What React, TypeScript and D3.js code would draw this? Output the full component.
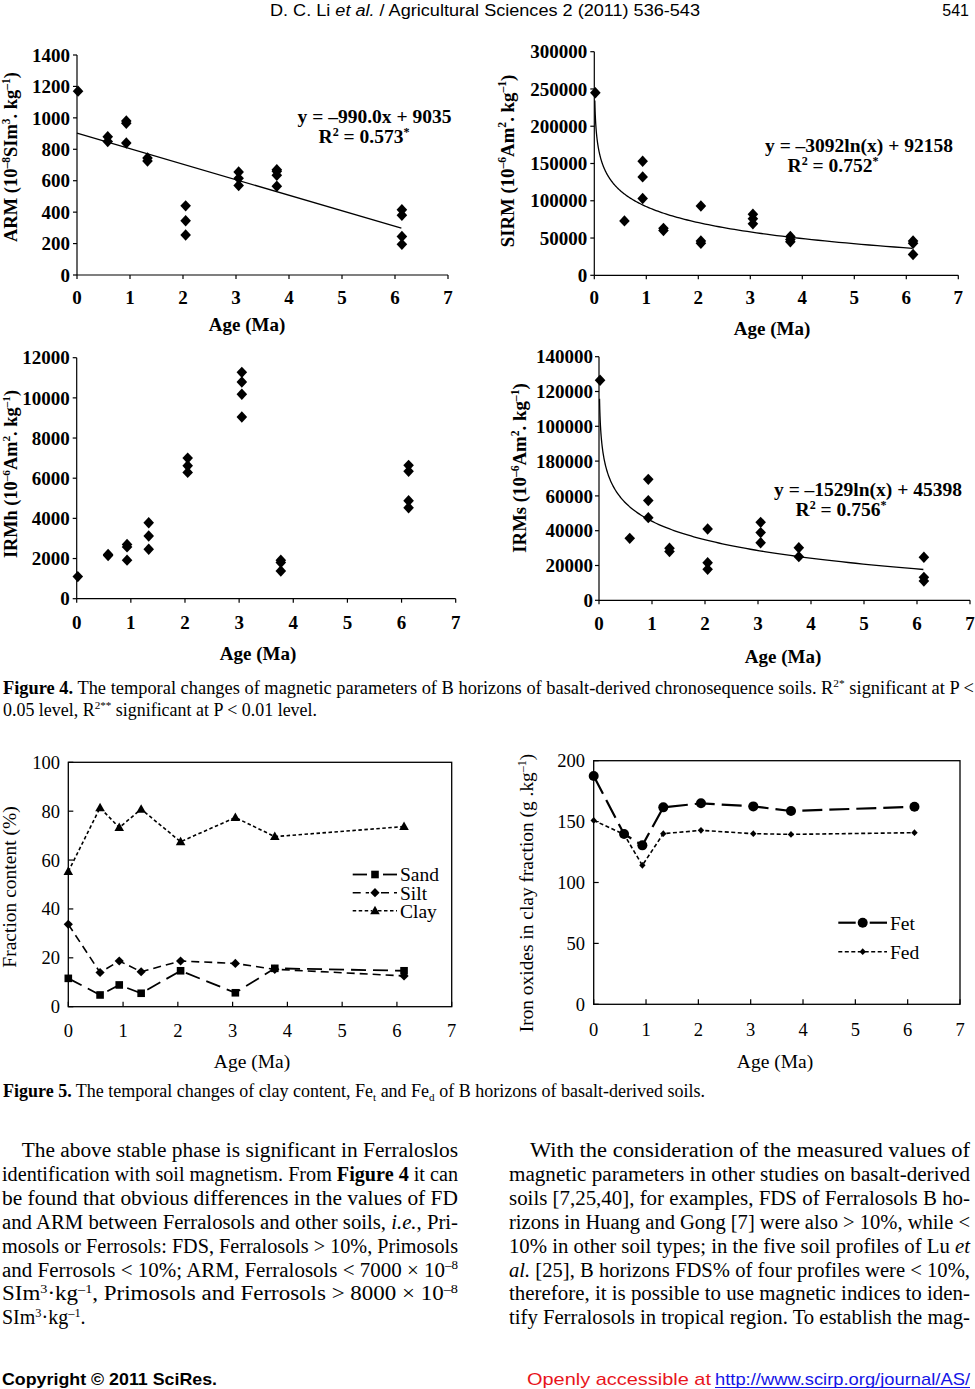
import React from "react";
import * as d3 from "d3";

const SERIF = "'Liberation Serif', 'Times New Roman', serif";
const SANS = "'Liberation Sans', Arial, sans-serif";

// ---------- DATA ----------
const ages4 = [0.02, 0.58, 0.93, 1.33, 2.05, 3.05, 3.77, 6.13];
const ages5 = [0, 0.58, 0.93, 1.33, 2.05, 3.05, 3.77, 6.13];

const armValues = [[1170], [880, 850], [980, 965, 840], [745, 725], [440, 345, 255], [655, 615, 570], [670, 660, 635, 565], [415, 380, 245, 195]];
const sirmValues = [[245000], [73000], [153000, 132000, 103000], [63000, 60000], [93000, 46000, 43000], [82000, 76000, 69000], [52000, 48000, 45000], [46000, 43000, 28000]];
const irmhValues = [[1100], [2200, 2150], [2700, 2580, 1920], [3780, 3120, 2460], [7000, 6620, 6290], [11270, 10790, 10180, 9050], [1920, 1800, 1380], [6640, 6340, 4880, 4530]];
const irmsValues = [[126500], [35600], [69500, 57300, 47500], [29900, 28000], [41000, 21600, 17800], [44800, 38900, 33100], [30200, 25100], [24700, 13200, 11100]];

const armTicks = [0, 200, 400, 600, 800, 1000, 1200, 1400];
const sirmTicks = [0, 50000, 100000, 150000, 200000, 250000, 300000];
const irmhTicks = [0, 2000, 4000, 6000, 8000, 10000, 12000];
const irmsTicks = [0, 20000, 40000, 60000, 80000, 100000, 120000, 140000];
const irmsTickLabels = ["0", "20000", "40000", "60000", "180000", "100000", "120000", "140000"];
const ageTicks = [0, 1, 2, 3, 4, 5, 6, 7];

const sand = [11.6, 4.8, 8.9, 5.5, 14.7, 5.7, 15.7, 14.7];
const silt = [33.7, 14.0, 18.7, 14.3, 18.7, 17.7, 15.3, 12.6];
const clay = [55.3, 81.4, 73.3, 80.8, 67.5, 77.4, 69.6, 73.7];
const fractionTicks = [0, 20, 40, 60, 80, 100];

const fet = [187.4, 139.8, 130.5, 161.7, 165.0, 162.5, 158.7, 162.2];
const fed = [151.0, 139.5, 114.1, 140.1, 142.8, 140.1, 139.5, 140.9];
const ironTicks = [0, 50, 100, 150, 200];

// regression equations as printed (y values in plotted units)
const armFit = { slope: -99.0, intercept: 903.5 };
const sirmFit = { a: -30920, b: 92158 };
const irmsFit = { a: -15290, b: 45398 };

// ---------- helpers ----------
type Seg = { t: string; sup?: boolean; sub?: boolean; b?: boolean; i?: boolean };

function Rich({ segs, fs }: { segs: Seg[]; fs: number }) {
  let shift = 0;
  return (
    <>
      {segs.map((s, k) => {
        const target = s.sup ? -fs * 0.38 : s.sub ? fs * 0.22 : 0;
        const dy = target - shift;
        shift = target;
        return (
          <tspan
            key={k}
            dy={dy !== 0 ? dy : undefined}
            fontSize={s.sup || s.sub ? fs * 0.62 : undefined}
            fontWeight={s.b ? "bold" : undefined}
            fontStyle={s.i ? "italic" : undefined}
          >
            {s.t}
          </tspan>
        );
      })}
    </>
  );
}

const diamond = (px: number, py: number, w: number, h: number) =>
  `M${px},${py - h}L${px + w},${py}L${px},${py + h}L${px - w},${py}Z`;

type ScatterCfg = {
  x0: number; x7: number; y0: number; yTop: number; yMax: number;
  yTicks: number[]; yTickLabels?: string[];
  groups: number[][];
  yLabel: Seg[]; yLabelX: number; yLabelY: number; yLabelFs: number;
  ageY: number; ageX: number; tickLabelDy: number; tickGap: number;
  fit?: (x: number) => number; fitLog?: boolean;
  eq?: { l1: string; l2: Seg[]; x1: number; y1: number; x2: number; y2: number };
};

function ScatterPanel({ c }: { c: ScatterCfg }) {
  const x = d3.scaleLinear().domain([0, 7]).range([c.x0, c.x7]);
  const y = d3.scaleLinear().domain([0, c.yMax]).range([c.y0, c.yTop]);
  const pts = c.groups.flatMap((g, i) => g.map((v) => [ages4[i], v] as [number, number]));
  let fitPath = "";
  if (c.fit) {
    const xs = c.fitLog
      ? d3.range(0, 220).map((i) => 0.01 * Math.pow(612, i / 219))
      : [0, 6.12];
    const line = d3.line<number>().x((d) => x(d)).y((d) => y(c.fit!(d)));
    fitPath = line(xs) || "";
  }
  const fs = 19;
  return (
    <g fontFamily={SERIF} fontWeight="bold" fill="#000">
      <line x1={c.x0} x2={c.x0} y1={c.yTop} y2={c.y0} stroke="#000" strokeWidth={1.2} />
      <line x1={c.x0} x2={c.x7} y1={c.y0} y2={c.y0} stroke="#000" strokeWidth={1.2} />
      {c.yTicks.map((t, i) => (
        <g key={"y" + t}>
          <line x1={c.x0 - 4} x2={c.x0} y1={y(t)} y2={y(t)} stroke="#000" strokeWidth={1.2} />
          <text x={c.x0 - c.tickGap} y={y(t)} dy="0.35em" textAnchor="end" fontSize={fs}>
            {c.yTickLabels ? c.yTickLabels[i] : String(t)}
          </text>
        </g>
      ))}
      {ageTicks.map((t) => (
        <g key={"x" + t}>
          <line x1={x(t)} x2={x(t)} y1={c.y0} y2={c.y0 + 4} stroke="#000" strokeWidth={1.2} />
          <text x={x(t)} y={c.y0 + c.tickLabelDy} textAnchor="middle" fontSize={fs}>
            {t}
          </text>
        </g>
      ))}
      <text x={c.ageX} y={c.ageY} textAnchor="middle" fontSize={19}>Age (Ma)</text>
      <text transform={`translate(${c.yLabelX},${c.yLabelY}) rotate(-90)`} textAnchor="middle" fontSize={c.yLabelFs}>
        <Rich segs={c.yLabel} fs={c.yLabelFs} />
      </text>
      {fitPath && <path d={fitPath} fill="none" stroke="#000" strokeWidth={1.3} />}
      {pts.map((p, i) => (
        <path key={i} d={diamond(x(p[0]), y(p[1]), 5.3, 5.7)} fill="#000" />
      ))}
      {c.eq && (
        <>
          <text x={c.eq.x1} y={c.eq.y1} textAnchor="middle" fontSize={19.5}>{c.eq.l1}</text>
          <text x={c.eq.x2} y={c.eq.y2} textAnchor="middle" fontSize={19.5}>
            <Rich segs={c.eq.l2} fs={19.5} />
          </text>
        </>
      )}
    </g>
  );
}

type LineSeries = {
  values: number[]; dash: string; width: number;
  marker: (px: number, py: number) => React.ReactNode;
  name: string; legendY: number; legGap: number;
};

type LineCfg = {
  x0: number; x7: number; y0: number; yTop: number; yMax: number; yTicks: number[];
  series: LineSeries[];
  yLabel: Seg[]; yLabelX: number; yLabelY: number; yLabelFs: number;
  ageX: number; ageY: number; tickLabelDy: number; tickGap: number;
  legX1: number; legX2: number; legM: number; legText: number;
};

function LinePanel({ c }: { c: LineCfg }) {
  const x = d3.scaleLinear().domain([0, 7]).range([c.x0, c.x7]);
  const y = d3.scaleLinear().domain([0, c.yMax]).range([c.y0, c.yTop]);
  const fs = 18.5;
  return (
    <g fontFamily={SERIF} fill="#000">
      <rect x={c.x0} y={c.yTop} width={c.x7 - c.x0} height={c.y0 - c.yTop} fill="none" stroke="#000" strokeWidth={1.3} />
      {c.yTicks.map((t) => (
        <g key={"y" + t}>
          <line x1={c.x0} x2={c.x0 + 5} y1={y(t)} y2={y(t)} stroke="#000" strokeWidth={1.2} />
          <text x={c.x0 - c.tickGap} y={y(t)} dy="0.35em" textAnchor="end" fontSize={fs}>{t}</text>
        </g>
      ))}
      {ageTicks.map((t) => (
        <g key={"x" + t}>
          <line x1={x(t)} x2={x(t)} y1={c.y0} y2={c.y0 - 5} stroke="#000" strokeWidth={1.2} />
          <text x={x(t)} y={c.y0 + c.tickLabelDy} textAnchor="middle" fontSize={fs}>{t}</text>
        </g>
      ))}
      <text x={c.ageX} y={c.ageY} textAnchor="middle" fontSize={19.5}>Age (Ma)</text>
      <text transform={`translate(${c.yLabelX},${c.yLabelY}) rotate(-90)`} textAnchor="middle" fontSize={c.yLabelFs}>
        <Rich segs={c.yLabel} fs={c.yLabelFs} />
      </text>
      {c.series.map((s) => {
        const line = d3.line<number>().x((_, i) => x(ages5[i])).y((d) => y(d));
        return (
          <g key={s.name}>
            <path d={line(s.values) || ""} fill="none" stroke="#000" strokeWidth={s.width} strokeDasharray={s.dash} />
            {s.values.map((v, i) => (
              <g key={i}>{s.marker(x(ages5[i]), y(v))}</g>
            ))}
            <line x1={c.legX1} x2={c.legM - s.legGap} y1={s.legendY} y2={s.legendY} stroke="#000" strokeWidth={s.width} strokeDasharray={s.dash} />
            <line x1={c.legM + s.legGap} x2={c.legX2} y1={s.legendY} y2={s.legendY} stroke="#000" strokeWidth={s.width} strokeDasharray={s.dash} />
            {s.marker(c.legM, s.legendY)}
            <text x={c.legText} y={s.legendY} dy="0.35em" fontSize={19.5}>{s.name}</text>
          </g>
        );
      })}
    </g>
  );
}

// ---------- panel configs ----------
const c1: ScatterCfg = {
  x0: 77, x7: 448, y0: 275, yTop: 55, yMax: 1400, yTicks: armTicks, groups: armValues,
  yLabel: [{ t: "ARM (10" }, { t: "–8", sup: true }, { t: "SIm" }, { t: "3", sup: true }, { t: ". kg" }, { t: "–1", sup: true }, { t: ")" }],
  yLabelX: 16.8, yLabelY: 157, yLabelFs: 18.5, ageX: 247, ageY: 331, tickLabelDy: 29, tickGap: 7,
  fit: (v) => armFit.slope * v + armFit.intercept,
  eq: { l1: "y = –990.0x + 9035", l2: [{ t: "R" }, { t: "2", sup: true }, { t: " = 0.573" }, { t: "*", sup: true }], x1: 374.5, y1: 123, x2: 364, y2: 143 },
};
const c2: ScatterCfg = {
  x0: 594.3, x7: 958.3, y0: 275.3, yTop: 51.7, yMax: 300000, yTicks: sirmTicks, groups: sirmValues,
  yLabel: [{ t: "SIRM (10" }, { t: "–6", sup: true }, { t: "Am" }, { t: "2", sup: true }, { t: ". kg" }, { t: "–1", sup: true }, { t: ")" }],
  yLabelX: 513.5, yLabelY: 161, yLabelFs: 18.8, ageX: 772, ageY: 335, tickLabelDy: 29, tickGap: 7,
  fit: (v) => sirmFit.a * Math.log(v) + sirmFit.b, fitLog: true,
  eq: { l1: "y = –3092ln(x) + 92158", l2: [{ t: "R" }, { t: "2", sup: true }, { t: " = 0.752" }, { t: "*", sup: true }], x1: 859, y1: 151.5, x2: 833, y2: 172 },
};
const c3: ScatterCfg = {
  x0: 76.7, x7: 455.7, y0: 598.7, yTop: 357.7, yMax: 12000, yTicks: irmhTicks, groups: irmhValues,
  yLabel: [{ t: "IRMh (10" }, { t: "–6", sup: true }, { t: "Am" }, { t: "2", sup: true }, { t: ". kg" }, { t: "–1", sup: true }, { t: ")" }],
  yLabelX: 16.8, yLabelY: 474, yLabelFs: 18.3, ageX: 258, ageY: 660, tickLabelDy: 30, tickGap: 7,
};
const c4: ScatterCfg = {
  x0: 599, x7: 970, y0: 600.3, yTop: 356.7, yMax: 140000, yTicks: irmsTicks, yTickLabels: irmsTickLabels, groups: irmsValues,
  yLabel: [{ t: "IRMs (10" }, { t: "–6", sup: true }, { t: "Am" }, { t: "2", sup: true }, { t: ". kg" }, { t: "–1", sup: true }, { t: ")" }],
  yLabelX: 526, yLabelY: 468, yLabelFs: 18.8, ageX: 783, ageY: 663, tickLabelDy: 30, tickGap: 6,
  fit: (v) => irmsFit.a * Math.log(v) + irmsFit.b, fitLog: true,
  eq: { l1: "y = –1529ln(x) + 45398", l2: [{ t: "R" }, { t: "2", sup: true }, { t: " = 0.756" }, { t: "*", sup: true }], x1: 868, y1: 495.5, x2: 841, y2: 516 },
};

const c5: LineCfg = {
  x0: 68.3, x7: 451.7, y0: 1006.7, yTop: 762.3, yMax: 100, yTicks: fractionTicks,
  series: [
    { values: sand, dash: "15,7", width: 1.8, name: "Sand", legendY: 874.5, legGap: 8, marker: (px, py) => <rect x={px - 3.8} y={py - 3.8} width={7.6} height={7.6} fill="#000" /> },
    { values: silt, dash: "8,5", width: 1.6, name: "Silt", legendY: 892.7, legGap: 6, marker: (px, py) => <path d={diamond(px, py, 4.6, 4.6)} fill="#000" /> },
    { values: clay, dash: "3.5,2.5", width: 1.6, name: "Clay", legendY: 910.7, legGap: 3, marker: (px, py) => <path d={`M${px},${py - 5}L${px + 4.8},${py + 3.5}L${px - 4.8},${py + 3.5}Z`} fill="#000" /> },
  ],
  yLabel: [{ t: "Fraction content (%)" }], yLabelX: 16, yLabelY: 887, yLabelFs: 19.5,
  ageX: 252, ageY: 1068, tickLabelDy: 30, tickGap: 8.3,
  legX1: 352.7, legX2: 397, legM: 375, legText: 400,
};

const c6: LineCfg = {
  x0: 593.7, x7: 960, y0: 1004.3, yTop: 760.7, yMax: 200, yTicks: ironTicks,
  series: [
    { values: fet, dash: "20,7", width: 2.2, name: "Fet", legendY: 922.7, legGap: 7, marker: (px, py) => <circle cx={px} cy={py} r={5} fill="#000" /> },
    { values: fed, dash: "4,2.5", width: 1.6, name: "Fed", legendY: 951.7, legGap: 2, marker: (px, py) => <path d={diamond(px, py, 3.2, 3.4)} fill="#000" /> },
  ],
  yLabel: [{ t: "Iron oxides in clay fraction (g .kg" }, { t: "–1", sup: true }, { t: ")" }], yLabelX: 533, yLabelY: 893, yLabelFs: 19.4,
  ageX: 775, ageY: 1068, tickLabelDy: 31.5, tickGap: 8.7,
  legX1: 838.3, legX2: 887, legM: 862.7, legText: 890,
};

// ---------- text ----------
const cap4a: Seg[] = [{ t: "Figure 4.", b: true }, { t: " The temporal changes of magnetic parameters of B horizons of basalt-derived chronosequence soils. R" }, { t: "2*", sup: true }, { t: " significant at P <" }];
const cap4b: Seg[] = [{ t: "0.05 level, R" }, { t: "2**", sup: true }, { t: " significant at P < 0.01 level." }];
const cap5: Seg[] = [{ t: "Figure 5.", b: true }, { t: " The temporal changes of clay content, Fe" }, { t: "t", sub: true }, { t: " and Fe" }, { t: "d", sub: true }, { t: " of B horizons of basalt-derived soils." }];

const leftLines: Seg[][] = [
  [{ t: "The above stable phase is significant in Ferraloslos" }],
  [{ t: "identification with soil magnetism. From " }, { t: "Figure 4", b: true }, { t: " it can" }],
  [{ t: "be found that obvious differences in the values of FD" }],
  [{ t: "and ARM between Ferralosols and other soils, " }, { t: "i.e.", i: true }, { t: ", Pri-" }],
  [{ t: "mosols or Ferrosols: FDS, Ferralosols > 10%, Primosols" }],
  [{ t: "and Ferrosols < 10%; ARM, Ferralosols < 7000 × 10" }, { t: "–8", sup: true }],
  [{ t: "SIm" }, { t: "3", sup: true }, { t: "·kg" }, { t: "–1", sup: true }, { t: ",  Primosols  and  Ferrosols  >  8000  ×  10" }, { t: "–8", sup: true }],
  [{ t: "SIm" }, { t: "3", sup: true }, { t: "·kg" }, { t: "–1", sup: true }, { t: "." }],
];
const rightLines: Seg[][] = [
  [{ t: "With the consideration of the measured values of" }],
  [{ t: "magnetic parameters in other studies on basalt-derived" }],
  [{ t: "soils [7,25,40], for examples, FDS of Ferralosols B ho-" }],
  [{ t: "rizons in Huang and Gong [7] were also > 10%, while <" }],
  [{ t: "10% in other soil types; in the five soil profiles of Lu " }, { t: "et", i: true }],
  [{ t: "al.", i: true }, { t: " [25], B horizons FDS% of four profiles were < 10%," }],
  [{ t: "therefore, it is possible to use magnetic indices to iden-" }],
  [{ t: "tify Ferralosols in tropical region. To establish the mag-" }],
];

function BodyColumn({ lines, x, xIndent, right, lastFree }: { lines: Seg[][]; x: number; xIndent: number; right: number; lastFree?: boolean }) {
  return (
    <g fontFamily={SERIF} fontSize={20} fill="#000">
      {lines.map((segs, i) => {
        const lx = i === 0 ? xIndent : x;
        const free = lastFree && i === lines.length - 1;
        return (
          <text key={i} x={lx} y={1157 + 23.9 * i} textLength={free ? undefined : right - lx} lengthAdjust="spacingAndGlyphs">
            <Rich segs={segs} fs={20} />
          </text>
        );
      })}
    </g>
  );
}

export default function App() {
  return (
    <svg width={975} height={1389} viewBox="0 0 975 1389" style={{ position: "absolute", left: 0, top: 0, background: "#fff" }}>
      <rect x={0} y={0} width={975} height={1389} fill="#fff" />
      {/* header */}
      <text x={270} y={16} fontFamily={SANS} fontSize={16} textLength={430} lengthAdjust="spacingAndGlyphs">
        D. C. Li <tspan fontStyle="italic">et al.</tspan> / Agricultural Sciences 2 (2011) 536-543
      </text>
      <text x={969} y={16} fontFamily={SANS} fontSize={16} textAnchor="end">541</text>

      <ScatterPanel c={c1} />
      <ScatterPanel c={c2} />
      <ScatterPanel c={c3} />
      <ScatterPanel c={c4} />

      <g fontFamily={SERIF} fontSize={18} fill="#000">
        <text x={3} y={694} textLength={971} lengthAdjust="spacingAndGlyphs"><Rich segs={cap4a} fs={18} /></text>
        <text x={3} y={716} textLength={314} lengthAdjust="spacingAndGlyphs"><Rich segs={cap4b} fs={18} /></text>
      </g>

      <LinePanel c={c5} />
      <LinePanel c={c6} />

      <g fontFamily={SERIF} fontSize={18} fill="#000">
        <text x={3} y={1097} textLength={702} lengthAdjust="spacingAndGlyphs"><Rich segs={cap5} fs={18} /></text>
      </g>

      <BodyColumn lines={leftLines} x={2} xIndent={21.7} right={458} lastFree />
      <BodyColumn lines={rightLines} x={509} xIndent={530} right={970} />

      {/* footer */}
      <text x={2} y={1385} fontFamily={SANS} fontWeight="bold" fontSize={17} textLength={215} lengthAdjust="spacingAndGlyphs">Copyright © 2011 SciRes.</text>
      <text x={527} y={1385} fontFamily={SANS} fontSize={17} fill="#e8141c" textLength={184} lengthAdjust="spacingAndGlyphs">Openly accessible at</text>
      <text x={715} y={1385} fontFamily={SANS} fontSize={17} fill="#1414e6" textLength={255} lengthAdjust="spacingAndGlyphs">http://www.scirp.org/journal/AS/</text>
      <line x1={715} x2={970} y1={1387.5} y2={1387.5} stroke="#1414e6" strokeWidth={1} />
    </svg>
  );
}
